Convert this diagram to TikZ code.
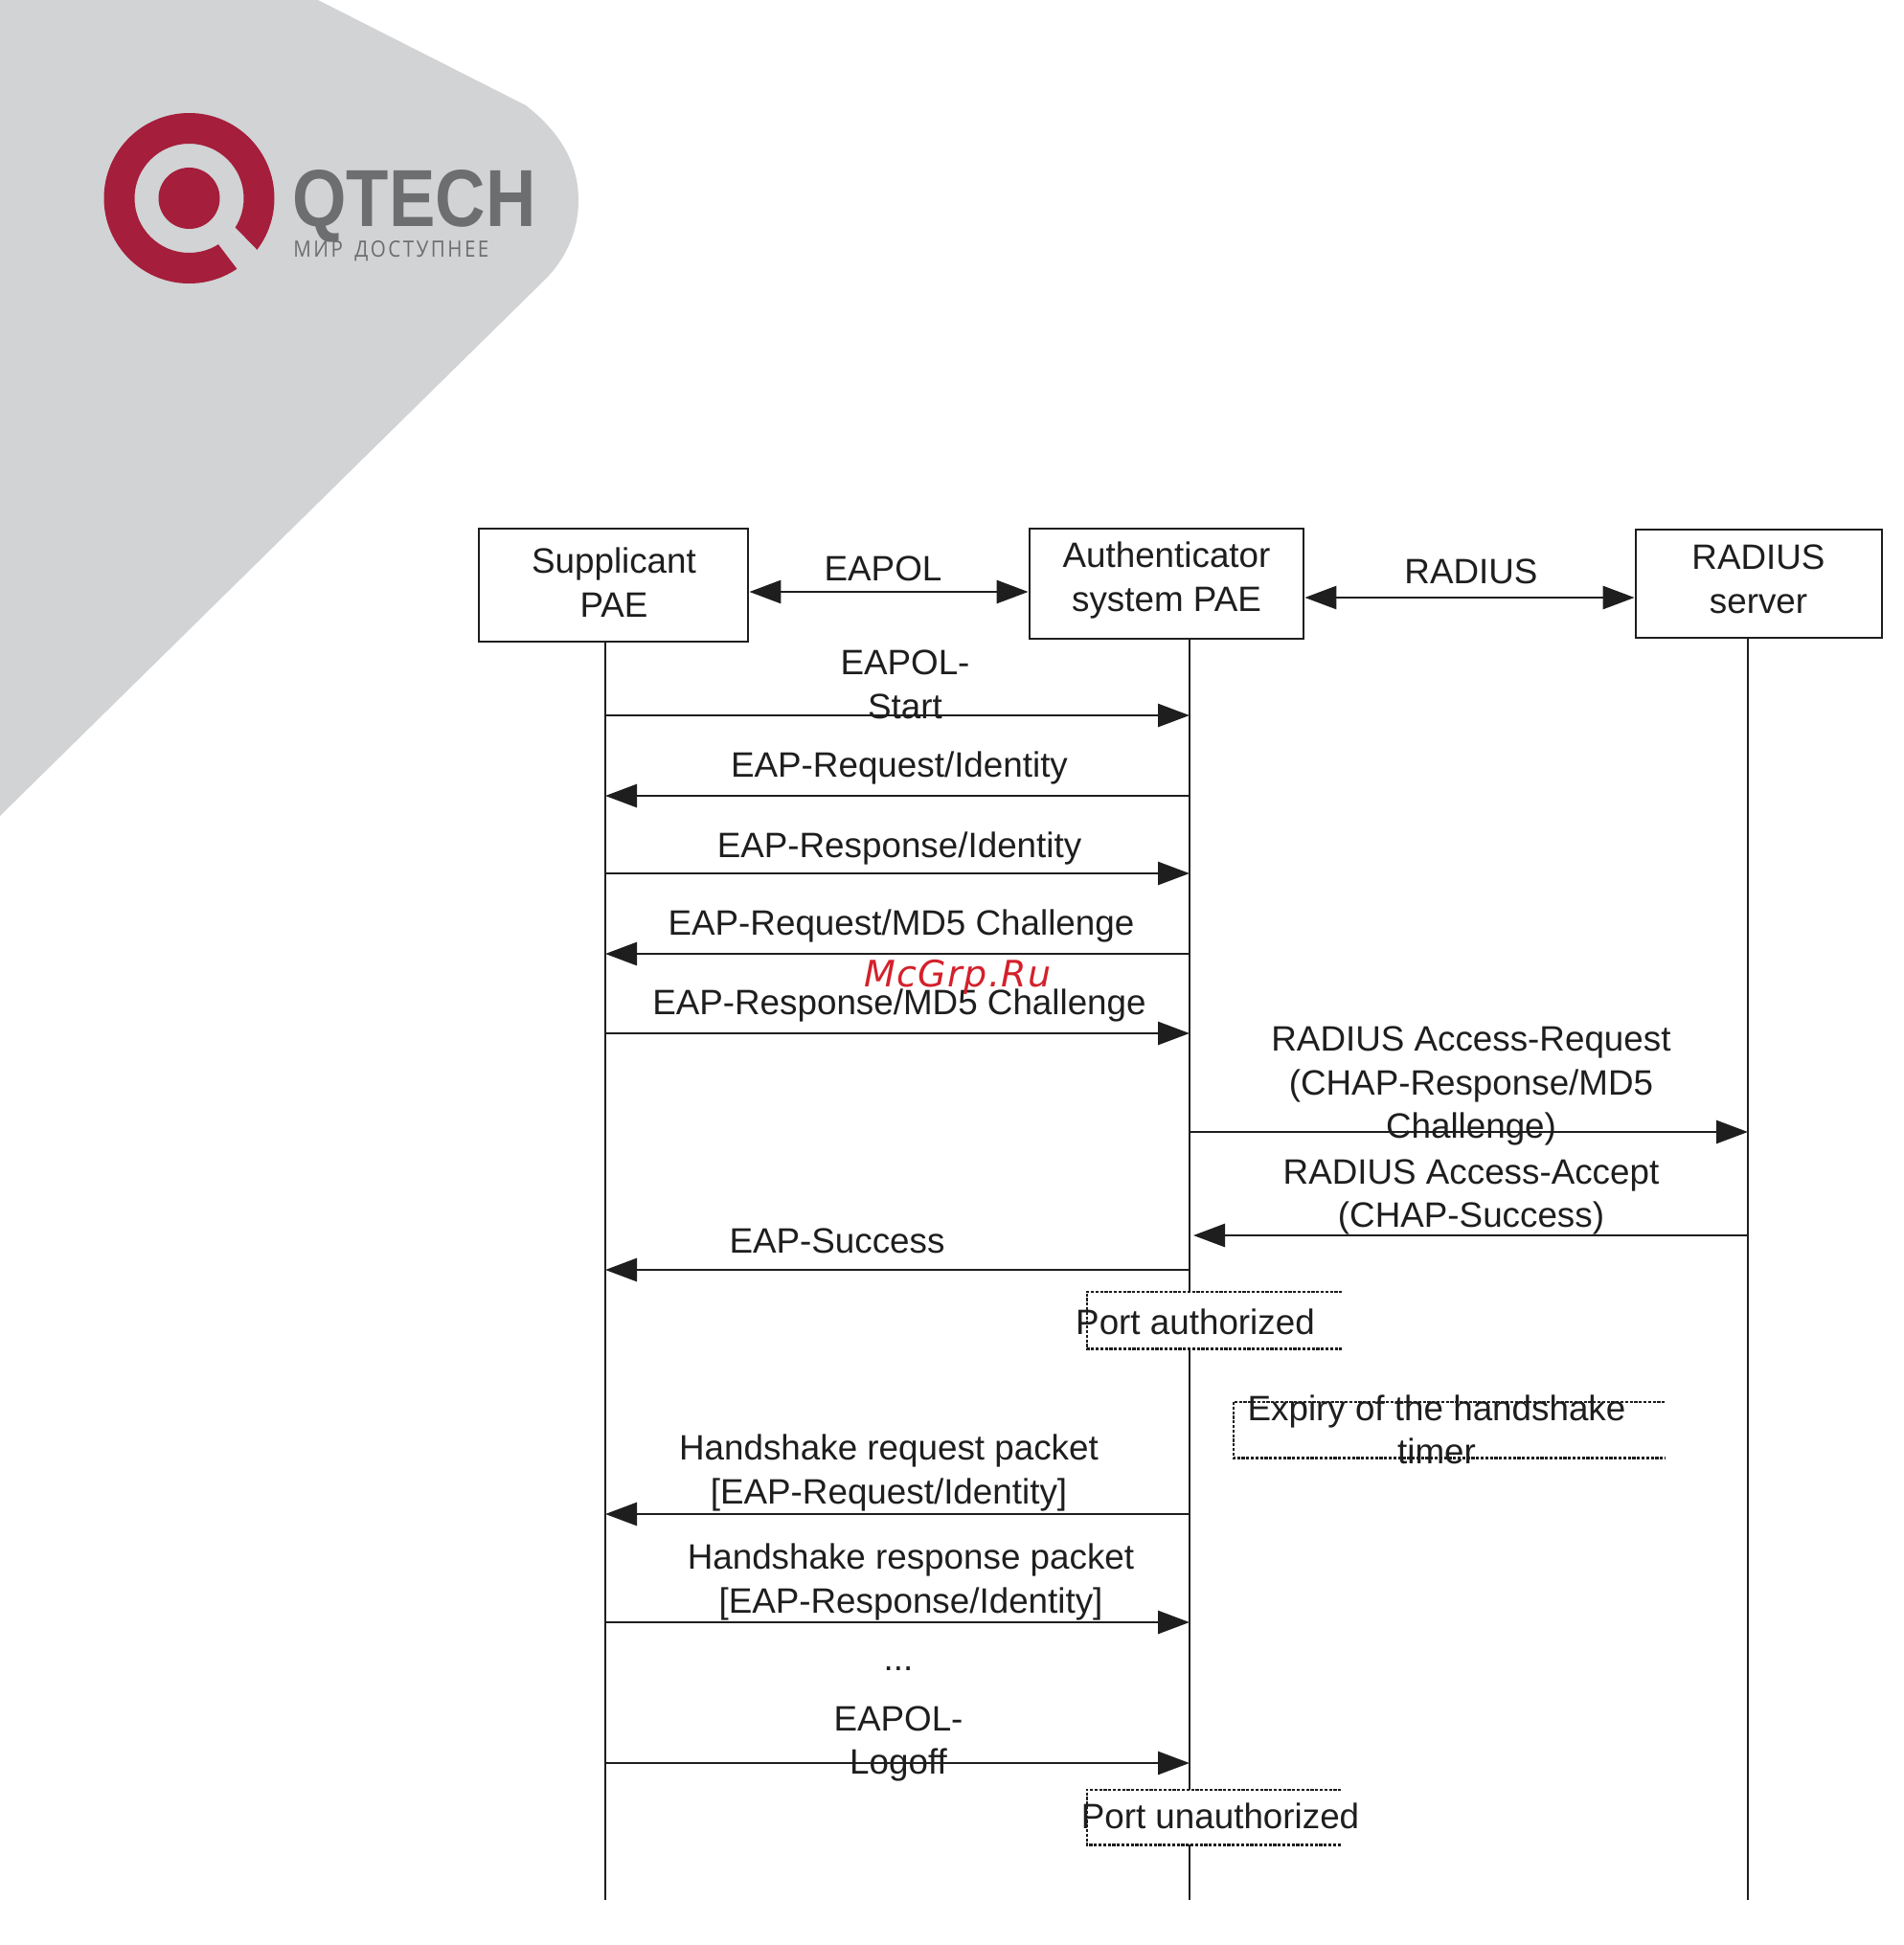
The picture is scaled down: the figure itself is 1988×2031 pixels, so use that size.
\documentclass[tikz,border=0pt]{standalone}
\usepackage{fontspec}
\usepackage{graphicx}
\setmainfont{Liberation Sans}
\newfontfamily\logofont{Liberation Sans}
\newfontfamily\tagfont[LetterSpace=12]{Open Sans}
\newfontfamily\wmfont[LetterSpace=3.5]{DejaVu Sans}
\usetikzlibrary{arrows.meta}
\definecolor{bgrey}{HTML}{D1D3D5}
\definecolor{logored}{HTML}{A51E3B}
\definecolor{logogrey}{HTML}{6D6E70}
\definecolor{ink}{HTML}{1E1E1E}
\definecolor{wmred}{HTML}{D3212B}
\tikzset{
  lab/.style={font=\fontsize{18.4}{22.7}\selectfont,text=ink,align=center,inner sep=0pt},
  pae/.style={draw=ink,line width=1.4pt,fill=white,inner sep=0pt,lab},
  life/.style={draw=ink,line width=1.3pt},
  msg/.style={draw=ink,line width=1.4pt,-{Triangle[length=16.5pt,width=12pt]}},
  both/.style={draw=ink,line width=1.4pt,{Triangle[length=16.5pt,width=12pt]}-{Triangle[length=16.5pt,width=12pt]}},
  mask/.style={fill=white,inner sep=0pt},
  dots/.style={draw=ink,line width=1.1pt,dash pattern=on 1.6pt off .8pt}
}
\begin{document}
\begin{tikzpicture}[x=.5pt,y=-.5pt]
\useasboundingbox (0,0) rectangle (1988,2031);
% corner shape and logo
\fill[bgrey] (0,0) -- (332,0) -- (549,110) .. controls (590,142) and (604,176) .. (604,209)
  .. controls (604,240) and (592,268) .. (571,290) -- (0,852) -- cycle;
\fill[logored,even odd rule] (197.5,207) circle (89) (197.5,207) circle (57);
\fill[logored] (197.5,207) circle (32);
\fill[bgrey] (245,237) -- (290,283) -- (266,305) -- (228,255) -- cycle;
\node[inner sep=0pt,anchor=base west,text=logogrey] (qtech) at (305,236) {\resizebox{127pt}{29.5pt}{\logofont\bfseries QTECH}};
\node[inner sep=0pt,anchor=base west,text=logogrey] (tag) at (306,268) {\resizebox{102pt}{8.5pt}{\tagfont МИР\hspace{.6em}ДОСТУПНЕЕ}};
% participants
\node[pae,minimum width=140.5pt,minimum height=59pt] (sup) at (640.5,611) {};
\node[pae,minimum width=143pt,minimum height=57.5pt] (auth) at (1218,609.5) {};
\node[pae,minimum width=128.5pt,minimum height=56.5pt] (rad) at (1836.5,609.5) {};
\node[lab] (tsup) at (641,608) {Supplicant\\PAE};
\node[lab] (tauth) at (1218,606) {Authenticator\\system PAE};
\node[lab] (trad) at (1836,605) {RADIUS\\server};
% named ends
\coordinate (l1) at (632,1984);
\coordinate (l2) at (1242,1984);
\coordinate (l3) at (1825,1984);
\foreach \n/\y in {start/747,reqid/831,respid/912,reqmd/996,respmd/1079,raccreq/1182,raccacc/1290,succ/1326,hsreq/1581,hsresp/1694,logoff/1841}{
  \coordinate (s\n) at (632,\y);
  \coordinate (a\n) at (1242,\y);
  \coordinate (r\n) at (1825,\y);
}
\coordinate (aaccept) at (1246,1290);
% lifelines
\draw[life] (sup.south -| l1) -- (l1);
\draw[life] (auth.south -| l2) -- (l2);
\draw[life] (rad.south -| l3) -- (l3);
% top links
\draw[both] (sup.east |- 0,618) -- (auth.west |- 0,618);
\draw[both] (auth.east |- 0,624) -- (rad.west |- 0,624);
% messages
\draw[msg] (sstart) -- (astart);
\draw[msg] (areqid) -- (sreqid);
\draw[msg] (srespid) -- (arespid);
\draw[msg] (areqmd) -- (sreqmd);
\draw[msg] (srespmd) -- (arespmd);
\draw[msg] (araccreq) -- (rraccreq);
\draw[msg] (rraccacc) -- (aaccept);
\draw[msg] (asucc) -- (ssucc);
\draw[msg] (ahsreq) -- (shsreq);
\draw[msg] (shsresp) -- (ahsresp);
\draw[msg] (slogoff) -- (alogoff);
% state boxes
\node[mask,minimum width=133pt,minimum height=29.5pt] (pa) at (1268,1378.5) {};
\draw[dots] (pa.north east) -- (pa.north west) -- (pa.south west) -- (pa.south east);
\node[mask,minimum width=225pt,minimum height=29pt] (ex) at (1513,1493) {};
\draw[dots] (ex.north east) -- (ex.north west) -- (ex.south west) -- (ex.south east);
\node[mask,minimum width=132.5pt,minimum height=28.5pt] (pu) at (1267.5,1897.5) {};
\draw[dots] (pu.north east) -- (pu.north west) -- (pu.south west) -- (pu.south east);
% labels
\node[lab] (teapol) at (922,594) {EAPOL};
\node[lab] (tradius) at (1536,597) {RADIUS};
\node[lab] (tstart) at (945,715) {EAPOL-\\Start};
\node[lab] (treqid) at (939,802) {EAP-Request/Identity};
\node[lab] (trespid) at (939,886) {EAP-Response/Identity};
\node[lab] (treqmd) at (941,967) {EAP-Request/MD5 Challenge};
\node[lab] (trespmd) at (939,1050) {EAP-Response/MD5 Challenge};
\node[lab] (tracc) at (1536,1134) {RADIUS Access-Request\\(CHAP-Response/MD5\\Challenge)};
\node[lab] (tacc) at (1536,1250) {RADIUS Access-Accept\\(CHAP-Success)};
\node[lab] (tsucc) at (874,1296) {EAP-Success};
\node[lab] (tpa) at (1248,1380) {Port authorized};
\node[lab] (tex) at (1500,1493) {Expiry of the handshake\\timer};
\node[lab] (thsq) at (928,1538) {Handshake request packet\\{}[EAP-Request/Identity]};
\node[lab] (thsr) at (951,1652) {Handshake response packet\\{}[EAP-Response/Identity]};
\node[lab] (tdots) at (938,1743) {...};
\node[lab] (tlog) at (938,1821) {EAPOL-\\Logoff};
\node[lab] (tpu) at (1274,1896) {Port unauthorized};
\node[inner sep=0pt,text=wmred,font=\wmfont\itshape\fontsize{19}{22}\selectfont] (wm) at (1000,1020) {McGrp.Ru};
\end{tikzpicture}
\end{document}
